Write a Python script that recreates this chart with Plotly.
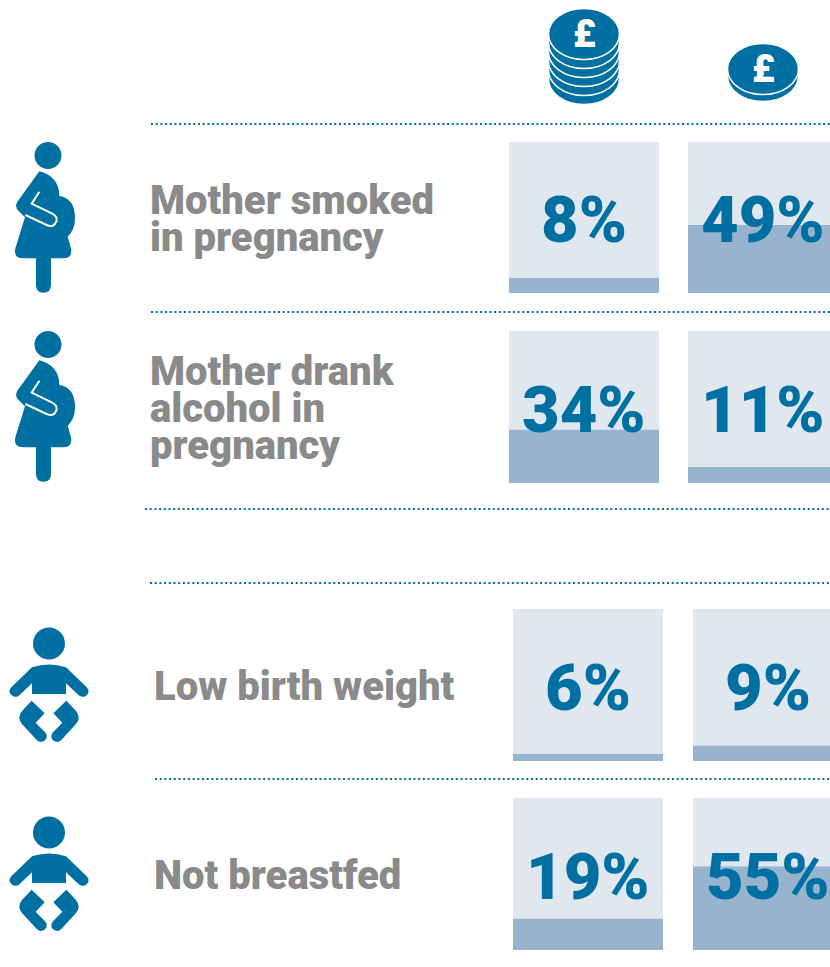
import re
import plotly.graph_objects as go

W, H = 830, 967
BLUE = "#006fa2"
LIGHT = "#e0e7ef"
FILL = "#97b3cd"
GREY = "#8a8a8a"

# data
row_labels = [["Mother smoked", "in pregnancy"], ["Mother drank", "alcohol in", "pregnancy"],
              ["Low birth weight"], ["Not breastfed"]]
rich_pct = [8, 34, 6, 19]
poor_pct = [49, 11, 9, 55]
# height of the filled part of each box, as drawn (not quite the printed number)
rich_fill = [10, 35, 4.6, 20.5]
poor_fill = [45, 10.5, 10, 55]

# pixel boxes of the panels: x0, x1, top, bottom
rich_box = [(509, 659, 142, 293), (509, 659, 331, 483), (513, 663, 609, 761), (513, 663, 798, 950)]
poor_box = [(688, 830, 142, 293), (688, 830, 331, 483), (693, 830, 609, 761), (693, 830, 798, 950)]
label_pos = [(148, 200), (148, 371), (152, 686), (152, 875)]
rules = [(151, 124), (151, 312), (145, 509), (150, 583), (155, 779)]

PREGNANT = ("M118 124 Q178 140 178 198 Q225 205 225 265 Q225 300 203 320 L213 355 Q218 385 190 385 "
            "L153 385 L153 465 Q153 488 130 488 Q108 488 108 465 L108 385 L70 385 Q40 385 46 355 "
            "L75 262 L58 245 Q42 232 52 215 Z")
PREGNANT_ARM = "M118 185 L95 221 L155 250 Q172 258 170 272 Q162 295 140 285 L76 255"
BABY = ("M96 142 Q147 125 198 142 L260 202 Q272 216 258 227 Q245 236 232 222 L198 190 L198 222 "
        "L96 222 L96 190 L60 224 Q47 236 35 226 Q22 214 34 202 Z "
        "M95 242 L134 280 L107 308 L135 337 Q146 350 135 361 Q122 372 110 360 L66 312 "
        "Q50 293 66 273 Z "
        "M199 242 L160 280 L187 308 L159 337 Q148 350 159 361 Q172 372 184 360 L228 312 "
        "Q244 293 228 273 Z")


def px(x):
    return x / W


def py(y):
    return 1 - y / H


def icon_path(d, ox, oy):
    nums = iter(re.findall(r"[A-Za-z]|-?\d+\.?\d*", d))
    out = []
    for tok in nums:
        if tok.isalpha():
            out.append(tok)
        else:
            out.append(f"{px(ox + float(tok) / 3):.5f},{py(oy + float(next(nums)) / 3):.5f}")
    return " ".join(out)


fig = go.Figure()
layout_axes = {}
annotations = []
shapes = []

panels = list(zip(rich_box, rich_pct, rich_fill)) + list(zip(poor_box, poor_pct, poor_fill))
for i, (box, pct, fill) in enumerate(panels):
    n = "" if i == 0 else str(i + 1)
    x0, x1, top, bottom = box
    fig.add_trace(go.Bar(x=[0], y=[100], width=1, marker=dict(color=LIGHT, line_width=0),
                         xaxis="x" + n, yaxis="y" + n, showlegend=False))
    fig.add_trace(go.Bar(x=[0], y=[fill], width=1, marker=dict(color=FILL, line_width=0),
                         xaxis="x" + n, yaxis="y" + n, showlegend=False))
    layout_axes["xaxis" + n] = dict(domain=[px(x0), px(x1)], range=[-0.5, 0.5], visible=False,
                                    anchor="y" + n, fixedrange=True)
    layout_axes["yaxis" + n] = dict(domain=[py(bottom), py(top)], range=[0, 100], visible=False,
                                    anchor="x" + n, fixedrange=True)
    annotations.append(dict(x=(x0 + 75) / W, y=py((top + bottom) / 2 + 3), xref="paper", yref="paper",
                            text=f"{pct}%", showarrow=False, xanchor="center", yanchor="middle",
                            font=dict(family="Roboto", size=65, weight=900, color=BLUE)))

for lines, (lx, ly) in zip(row_labels, label_pos):
    for j, line in enumerate(lines):
        annotations.append(dict(x=px(lx), y=py(ly + j * 37.5), xref="paper", yref="paper", text=line,
                                showarrow=False, xanchor="left", yanchor="middle", align="left",
                                font=dict(family="Roboto", size=40, weight=900, color=GREY)))

for rx, ry in rules:
    shapes.append(dict(type="line", xref="paper", yref="paper", x0=px(rx), x1=1, y0=py(ry), y1=py(ry),
                       line=dict(color=BLUE, width=2, dash="2px,2.7px")))


def coin(cx, cy):
    shapes.append(dict(type="circle", xref="paper", yref="paper", x0=px(cx - 35.5), x1=px(cx + 35.5),
                       y0=py(cy + 25.5), y1=py(cy - 25.5), fillcolor=BLUE,
                       line=dict(color="white", width=1.5)))


# coins, drawn bottom one first
for k in range(5, -1, -1):
    coin(584, 34 + 9 * k)
coin(763, 76)
coin(763, 69)
for cx, cy in [(584, 34), (763, 69)]:
    annotations.append(dict(x=px(cx), y=py(cy), xref="paper", yref="paper", text="£", showarrow=False,
                            xanchor="center", yanchor="middle",
                            font=dict(family="Roboto", size=38, weight=900, color="white")))

# people
for oy in (130, 319):
    shapes.append(dict(type="circle", xref="paper", yref="paper", x0=px(34.5), x1=px(61.5),
                       y0=py(oy + 39), y1=py(oy + 12), fillcolor=BLUE, line_width=0))
    shapes.append(dict(type="path", xref="paper", yref="paper", path=icon_path(PREGNANT, 0, oy),
                       fillcolor=BLUE, line_width=0))
    shapes.append(dict(type="path", xref="paper", yref="paper", path=icon_path(PREGNANT_ARM, 0, oy),
                       line=dict(color="white", width=2)))
for oy in (620, 809):
    shapes.append(dict(type="circle", xref="paper", yref="paper", x0=px(33), x1=px(65),
                       y0=py(oy + 39.5), y1=py(oy + 7.5), fillcolor=BLUE, line_width=0))
    shapes.append(dict(type="path", xref="paper", yref="paper", path=icon_path(BABY, 0, oy),
                       fillcolor=BLUE, line_width=0))

fig.update_layout(
    width=W,
    height=H,
    margin=dict(l=0, r=0, t=0, b=0),
    paper_bgcolor="white",
    plot_bgcolor="white",
    barmode="overlay",
    showlegend=False,
    annotations=annotations,
    shapes=shapes,
    **layout_axes,
)

fig.write_html("out.html", config=dict(displayModeBar=False),
               post_script="document.body.style.margin='0';")
